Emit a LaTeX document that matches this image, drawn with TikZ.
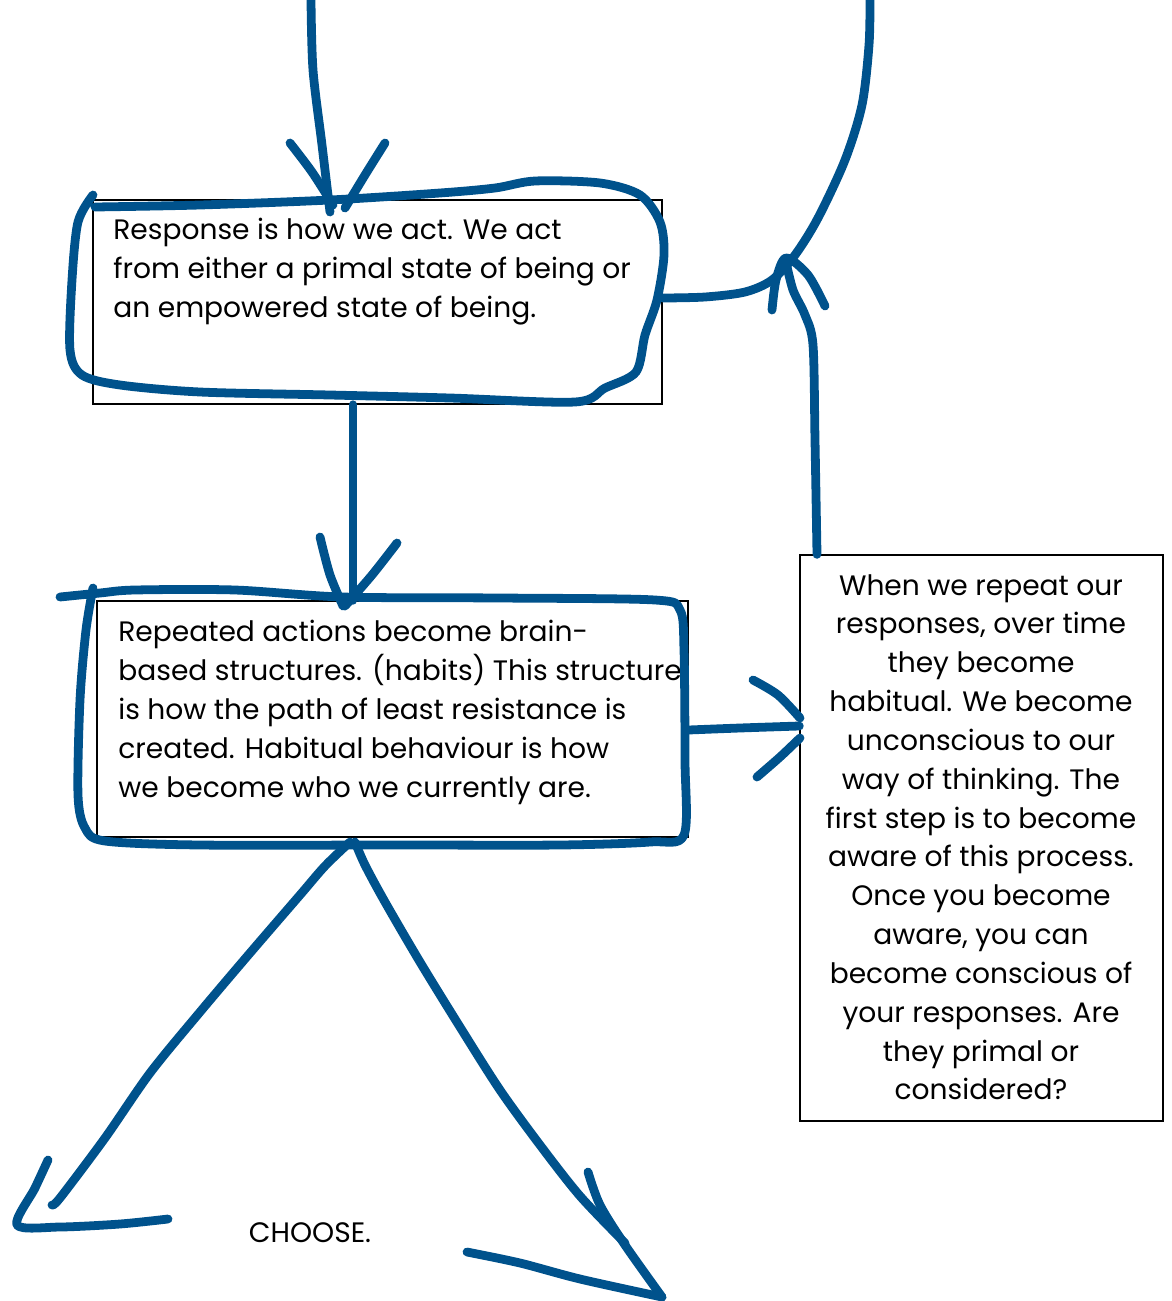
\documentclass[tikz,border=0pt]{standalone}
\usepackage{fontspec}
\setmainfont{Poppins}
\usetikzlibrary{positioning}
\definecolor{inkblue}{RGB}{0,82,140}

\begin{document}
\begin{tikzpicture}[
        x=0.02cm, y=-0.02cm, % one unit is one pixel of the sketch
        box/.style={draw, line width=0.8pt, inner sep=0pt},
        txt/.style={inner sep=0pt, font=\fontsize{16}{22.1}\selectfont},
        ink/.style={draw=inkblue, line width=5pt, line cap=round, line join=round}
      ]
      \useasboundingbox (0,0) rectangle (1171,1301);

      % Nodes
      \node (resp) [box, minimum width=11.38cm, minimum height=4.08cm] at (377.5,302) {};
      \node (habit) [box, minimum width=11.82cm, minimum height=4.72cm] at (392.5,719) {};
      \node (aware) [box, minimum width=7.26cm, minimum height=11.32cm] at (981.5,838) {};
      \node (resptxt) [txt, anchor=north west, align=left] at (113,218) {Response is how we act. We act\\from either a primal state of being or\\an empowered state of being.};
      \node (habittxt) [txt, anchor=north west, align=left] at (118,620) {Repeated actions become brain-\\based structures. (habits) This structure\\is how the path of least resistance is\\created. Habitual behaviour is how\\we become who we currently are.};
      \node (awaretxt) [txt, anchor=north, align=center] at (981,574) {When we repeat our\\responses, over time\\they become\\habitual. We become\\unconscious to our\\way of thinking. The\\first step is to become\\aware of this process.\\Once you become\\aware, you can\\become conscious of\\your responses. Are\\they primal or\\considered?};
      \node (choose) [txt] at (310,1233) {CHOOSE.};

      % Ink: coming in from the top
      \draw[ink] plot[smooth] coordinates {(311,0) (313,70) (322,145) (330,212)};
      \draw[ink] plot[smooth] coordinates {(290,143) (312,172) (333,205)};
      \draw[ink] plot[smooth] coordinates {(385,143) (365,175) (345,208)};

      % Ink: loop round the response box
      \draw[ink] plot[smooth] coordinates {(93,195) (78,222) (72,280) (70,350) (82,375) (120,385) (200,392) (330,395) (450,398) (575,402) (605,388) (636,372) (645,335) (657,300) (664,255) (660,222) (640,195) (600,183) (535,181) (495,188) (440,193) (330,200) (200,205) (95,207)};

      % Ink: back round to the top
      \draw[ink] plot[smooth] coordinates {(resp.east |- 0,298) (705,297) (745,292) (772,280) (795,255) (818,218) (845,160) (862,105) (869,45) (870,0)};
      \draw[ink] plot[smooth] coordinates {(aware.north -| 817,0) (815,440) (813,345) (805,315) (793,290) (786,262)};
      \draw[ink] plot[smooth] coordinates {(772,310) (776,280) (786,258) (808,275) (825,306)};

      % Ink: response to habit
      \draw[ink] (resp.south -| 353,0) -- (habit.north -| 353,0);
      \draw[ink] plot[smooth] coordinates {(320,537) (330,575) (343,606)};
      \draw[ink] plot[smooth] coordinates {(397,543) (372,575) (345,606)};

      % Ink: loop round the habit box
      \draw[ink] plot[smooth] coordinates {(60,597) (100,593) (135,590) (235,590) (343,597) (500,598) (655,600) (680,610) (684,650) (685,760) (684,835) (650,842) (560,845) (400,845) (200,845) (105,841) (85,828) (78,795) (80,700) (86,630) (93,588)};

      % Ink: habit to aware
      \draw[ink] plot[smooth] coordinates {(habit.east |- 0,730) (740,728) (aware.west |- 0,726)};
      \draw[ink] plot[smooth] coordinates {(753,680) (778,695) (800,718)};
      \draw[ink] plot[smooth] coordinates {(757,777) (780,757) (800,738)};

      % Ink: the two ways to choose
      \draw[ink] plot[smooth] coordinates {(350,842) (325,866) (300,895) (250,953) (200,1012) (150,1073) (105,1138) (60,1198) (52,1205)};
      \draw[ink] plot[smooth] coordinates {(48,1160) (35,1188) (17,1225) (60,1227) (120,1224) (168,1219)};
      \draw[ink] plot[smooth] coordinates {(355,842) (365,865) (385,902) (420,962) (460,1027) (500,1090) (540,1145) (580,1196) (625,1243)};
      \draw[ink] plot[smooth] coordinates {(588,1172) (600,1205) (625,1245) (662,1297)};
      \draw[ink] plot[smooth] coordinates {(467,1252) (520,1263) (580,1279) (662,1297)};

    \end{tikzpicture}
\end{document}
